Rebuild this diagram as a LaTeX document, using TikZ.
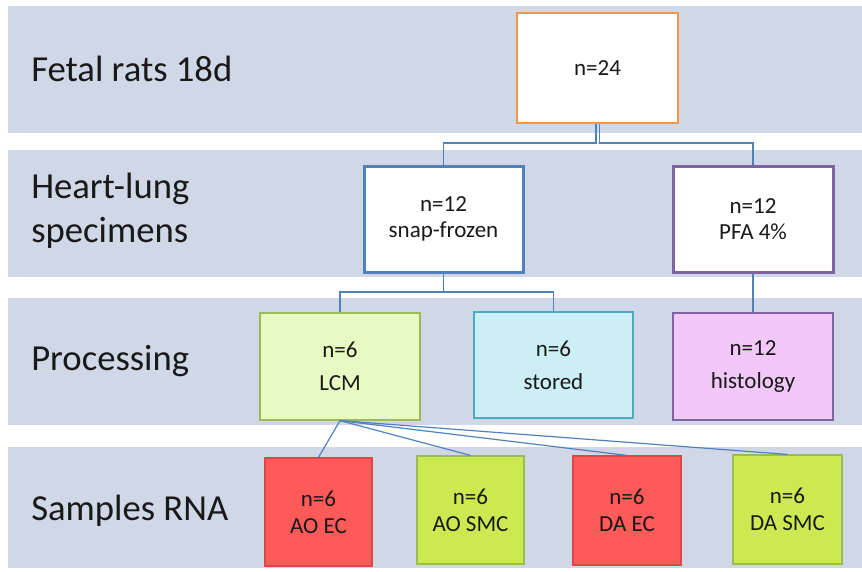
\documentclass[tikz,border=0pt]{standalone}
\usepackage{fontspec}
\setmainfont{Carlito}
\definecolor{band}{RGB}{208,215,231}
\definecolor{orangeb}{RGB}{247,150,70}
\definecolor{blueb}{RGB}{79,129,189}
\definecolor{purpleb}{RGB}{128,100,162}
\definecolor{lcmfill}{RGB}{230,250,194}
\definecolor{greenb}{RGB}{155,187,89}
\definecolor{stfill}{RGB}{204,238,245}
\definecolor{stb}{RGB}{75,172,198}
\definecolor{histfill}{RGB}{241,200,248}
\definecolor{redfill}{RGB}{255,90,90}
\definecolor{redb}{RGB}{220,70,70}
\definecolor{ygfill}{RGB}{205,233,82}
\definecolor{conn}{RGB}{79,129,189}
\tikzset{
  bandbox/.style={fill=band, draw=none},
  rowlabel/.style={anchor=base west, font=\fontsize{27.5}{33}\selectfont, text=black!90, inner sep=0pt, align=left},
  databox/.style={draw, align=center, inner sep=0pt, font=\fontsize{17.25}{20}\selectfont, text=black!90},
  conline/.style={draw=conn, line width=0.9pt},
}
\begin{document}
\begin{tikzpicture}[x=0.75pt,y=-0.75pt]
\useasboundingbox (0,0) rectangle (862,571);
% bands
\fill[bandbox] (8,6) rectangle (862,133);
\fill[bandbox] (8,150) rectangle (862,277);
\fill[bandbox] (8,298) rectangle (862,425);
\fill[bandbox] (8,447) rectangle (862,568);
% row labels
\node[rowlabel] (l1) at (31,81) {Fetal rats 18d};
\node[rowlabel, anchor=west] (l2) at (31,211) {Heart-lung\\specimens};
\node[rowlabel] (l3) at (31,370) {Processing};
\node[rowlabel] (l4) at (31,520) {Samples RNA};
% boxes
\node[databox, fill=white, draw=orangeb, line width=0.9pt, minimum width=161*0.75pt, minimum height=110*0.75pt] (n24) at (597.5,68) {n=24};
\node[databox, fill=white, draw=blueb, line width=2.25pt, minimum width=159*0.75pt, minimum height=106*0.75pt] (sf) at (443.5,219) {n=12\\snap-frozen};
\node[databox, fill=white, draw=purpleb, line width=2.25pt, minimum width=160*0.75pt, minimum height=106*0.75pt] (pfa) at (753,219) {n=12\\PFA 4\%};
\node[databox, fill=lcmfill, draw=greenb, line width=0.9pt, minimum width=160*0.75pt, minimum height=107*0.75pt, font=\fontsize{17.25}{25}\selectfont] (lcm) at (340,366.5) {n=6\\LCM};
\node[databox, fill=stfill, draw=stb, line width=0.9pt, minimum width=159*0.75pt, minimum height=106*0.75pt, font=\fontsize{17.25}{25}\selectfont] (st) at (553.5,365) {n=6\\stored};
\node[databox, fill=histfill, draw=purpleb, line width=0.9pt, minimum width=160*0.75pt, minimum height=107*0.75pt, font=\fontsize{17.25}{25}\selectfont] (hist) at (753,366.5) {n=12\\histology};
\node[databox, fill=redfill, draw=redb, line width=0.9pt, minimum width=107*0.75pt, minimum height=108*0.75pt] (aoec) at (318.5,512) {n=6\\AO EC};
\node[databox, fill=ygfill, draw=greenb, line width=0.9pt, minimum width=107*0.75pt, minimum height=108*0.75pt] (aosmc) at (470.5,510) {n=6\\AO SMC};
\node[databox, fill=redfill, draw=redb, line width=0.9pt, minimum width=108*0.75pt, minimum height=109*0.75pt] (daec) at (627,510.5) {n=6\\DA EC};
\node[databox, fill=ygfill, draw=greenb, line width=0.9pt, minimum width=109*0.75pt, minimum height=109*0.75pt] (dasmc) at (787.5,509.5) {n=6\\DA SMC};
% bus coordinates
\coordinate (bus1) at (597,143);
\coordinate (bus2) at (443,292);
% connectors
\draw[conline] ([xshift=-1.2pt]n24.south) |- ([xshift=-1.2pt]bus1) -| (sf.north);
\draw[conline] ([xshift=1.2pt]n24.south) |- ([xshift=1.2pt]bus1) -| (pfa.north);
\draw[conline] (sf.south) |- (bus2) -| (lcm.north);
\draw[conline] (bus2) -| (st.north);
\draw[conline] (pfa.south) -- (hist.north);
\draw[conline] (lcm.south) -- (aoec.north);
\draw[conline] (lcm.south) -- (aosmc.north);
\draw[conline] (lcm.south) -- (daec.north);
\draw[conline] (lcm.south) -- (dasmc.north);
\end{tikzpicture}
\end{document}
